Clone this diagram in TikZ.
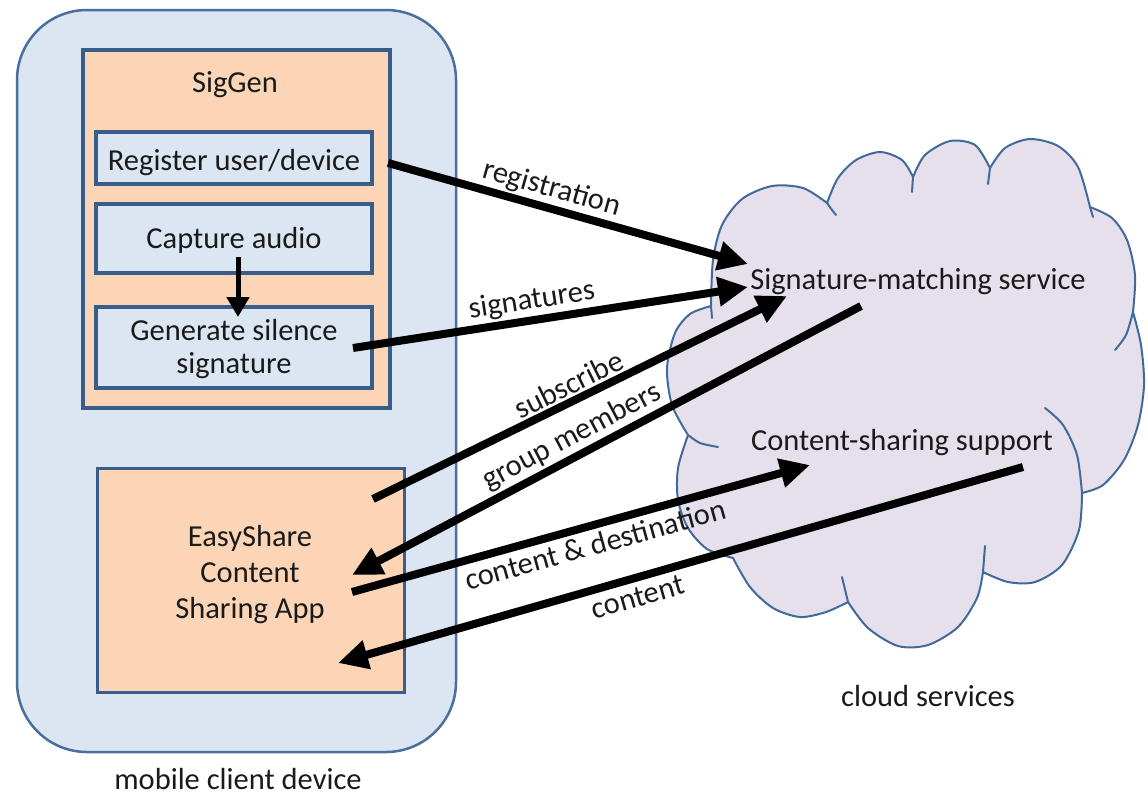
\documentclass[tikz,border=0pt]{standalone}
\usepackage{fontspec}
\setmainfont{Carlito}
\usetikzlibrary{arrows.meta}

\definecolor{devfill}{HTML}{DCE6F2}
\definecolor{devline}{HTML}{4A6F9E}
\definecolor{boxline}{HTML}{385D8A}
\definecolor{peach}{HTML}{FBD5B5}
\definecolor{cloudfill}{HTML}{E5E0EC}
\definecolor{cloudline}{HTML}{41699A}
\definecolor{inkc}{HTML}{1A1A1A}

\begin{document}
\begin{tikzpicture}[x=1pt,y=1pt,
  txt/.style={font=\fontsize{30.5}{34}\selectfont, text=inkc, inner sep=0pt},
  device/.style={draw=devline, fill=devfill, line width=2.5pt, rounded corners=70pt, inner sep=0pt},
  panel/.style={draw=boxline, fill=peach, line width=4pt, inner sep=0pt},
  stepbox/.style={draw=boxline, fill=devfill, line width=4pt, minimum width=276pt, inner sep=0pt},
  flow/.style={draw=black, line width=8pt, -{Triangle[length=30pt,width=28pt]}},
  lbl/.style={txt, sloped, inner sep=6pt},
]
\useasboundingbox (0,0) rectangle (1148,-796);

% ---------------- mobile client device ----------------
\node[device, minimum width=439pt, minimum height=742pt] (device) at (236.5,-381) {};
\node[txt, anchor=base] (devicecap) at (238,-789) {mobile client device};

% SigGen module
\node[panel, minimum width=307pt, minimum height=358pt] (siggen) at (236.5,-229) {};
\node[txt, anchor=base] (siggentitle) at (235,-92) {SigGen};
\node[stepbox, minimum height=52pt] (register) at (234,-158) {};
\node[txt, anchor=base] (registertext) at (234,-170) {Register user/device};
\node[stepbox, minimum height=69pt] (capture) at (234,-238.5) {};
\node[txt, anchor=base] (capturetext) at (234,-248) {Capture audio};
\node[stepbox, minimum height=81pt] (generate) at (234,-347.5) {};
\node[txt, align=center, font=\fontsize{30.5}{33}\selectfont] (generatetext) at (234,-349)
  {Generate silence\\signature};

% content sharing application
\node[panel, line width=3pt, minimum width=307pt, minimum height=224pt] (app) at (250.5,-580) {};
\node[txt, align=center, font=\fontsize{30.5}{36}\selectfont] (apptext) at (250,-575)
  {EasyShare\\Content\\Sharing App};

% ---------------- cloud services ----------------
\path[draw=cloudline, fill=cloudfill, line width=2pt, line join=round]
  plot[smooth] coordinates {(711,-306) (713,-260) (722,-225) (742,-199) (772,-186) (803,-188) (827,-203)}
  -- plot[smooth] coordinates {(827,-203) (838,-178) (856,-160) (880,-152) (902,-160) (913,-177)}
  -- plot[smooth] coordinates {(913,-177) (925,-155) (950,-141) (975,-145) (990,-168)}
  -- plot[smooth] coordinates {(990,-168) (1005,-148) (1030,-139) (1058,-146) (1078,-167) (1090,-207)}
  -- plot[smooth] coordinates {(1090,-207) (1112,-218) (1127,-240) (1135,-275) (1133,-312)}
  -- plot[smooth] coordinates {(1133,-312) (1141,-345) (1144,-385) (1138,-425) (1124,-460) (1103,-485) (1082,-493)}
  -- plot[smooth] coordinates {(1082,-493) (1079,-530) (1062,-565) (1035,-582) (1008,-582) (983,-572)}
  -- plot[smooth] coordinates {(983,-572) (977,-598) (958,-627) (928,-645) (898,-646) (868,-628) (848,-602)}
  -- plot[smooth] coordinates {(848,-602) (826,-612) (800,-617) (773,-608) (750,-587) (733,-558)}
  -- plot[smooth] coordinates {(733,-558) (707,-549) (688,-528) (678,-500) (678,-468) (688,-435)}
  -- plot[smooth] coordinates {(688,-435) (672,-405) (667,-368) (675,-333) (690,-314) (711,-306)}
  -- cycle;
% inner arcs of the cloud outline
\begin{scope}[draw=cloudline, line width=2pt, line cap=round]
  \draw (711,-306) -- (712,-318);
  \draw plot[smooth] coordinates {(827,-203) (832,-210) (836,-215)};
  \draw (913,-177) -- (912,-192);
  \draw (990,-168) -- (988,-184);
  \draw (1090,-207) -- (1093,-217);
  \draw plot[smooth] coordinates {(1133,-312) (1126,-335) (1115,-350)};
  \draw plot[smooth] coordinates {(1082,-493) (1077,-455) (1063,-425) (1045,-408)};
  \draw (983,-572) -- (985,-546);
  \draw (848,-602) -- (842,-577);
  \draw plot[smooth] coordinates {(688,-435) (700,-443) (718,-447)};
\end{scope}

\node[txt, anchor=base] (matching) at (918,-289) {Signature-matching service};
\node[txt, anchor=base] (sharing) at (902,-450) {Content-sharing support};
\node[txt, anchor=base] (cloudcap) at (928,-706) {cloud services};

% ---------------- connector end points ----------------
\coordinate (capA) at (238,-257);
\coordinate (capB) at (238,-317);
\coordinate (regA) at (388,-163);
\coordinate (regB) at (748,-264);
\coordinate (sigA) at (353,-348);
\coordinate (sigB) at (748,-287);
\coordinate (subA) at (373,-499);
\coordinate (subB) at (787,-296);
\coordinate (grpA) at (861,-306);
\coordinate (grpB) at (352,-575);
\coordinate (cdA)  at (352,-592);
\coordinate (cdB)  at (810,-465);
\coordinate (cnA)  at (1023,-467);
\coordinate (cnB)  at (338,-663);

% ---------------- connectors ----------------
\draw[line width=5pt, -{Triangle[length=20pt,width=22pt]}] (capA) -- (capB);
\draw[flow] (regA) -- (regB);
\draw[flow] (sigA) -- (sigB);
\draw[flow] (subA) -- (subB);
\draw[flow] (grpA) -- (grpB);
\draw[flow] (cdA) -- (cdB);
\draw[flow] (cnA) -- (cnB);

% ---------------- connector labels ----------------
\path (regA) -- node[lbl, anchor=south, pos=0.44] {registration} (regB);
\path (sigA) -- node[lbl, anchor=south, pos=0.46] {signatures} (sigB);
\path (subA) -- node[lbl, anchor=south, pos=0.49] {subscribe} (subB);
\path (grpB) -- node[lbl, anchor=south, pos=0.45] {group members} (grpA);
\path (cdA)  -- node[lbl, anchor=north, pos=0.52, inner sep=8pt] {content \& destination} (cdB);
\path (cnB)  -- node[lbl, anchor=north, pos=0.43, inner sep=9pt] {content} (cnA);
\end{tikzpicture}
\end{document}
